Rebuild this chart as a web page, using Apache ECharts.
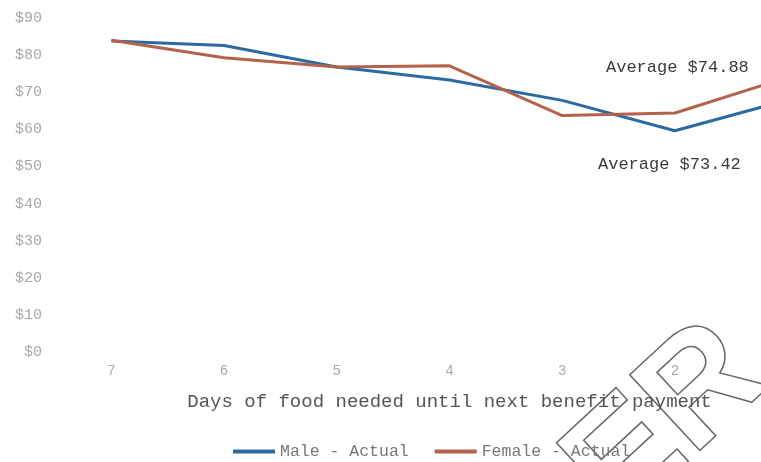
<!DOCTYPE html>
<html><head><meta charset="utf-8">
<script src="https://cdn.jsdelivr.net/npm/echarts@6/dist/echarts.min.js"></script>
<style>html,body{margin:0;padding:0;background:#fff;overflow:hidden}#c{width:850px;height:462px}</style>
</head><body><div id="c"></div>
<script>
var categories = ['7','6','5','4','3','2','1'];
var maleActual = [83.8, 82.6, 76.8, 73.3, 67.8, 59.6, 67.9];
var femaleActual = [84.0, 79.3, 76.8, 77.1, 63.7, 64.4, 74.0];
var yTicks = [0, 10, 20, 30, 40, 50, 60, 70, 80, 90];
var maleAvgLabel = 'Average $73.42';
var femaleAvgLabel = 'Average $74.88';

var chart = echarts.init(document.getElementById('c'), null, {renderer: 'canvas'});
var mono = 'Liberation Mono';
chart.setOption({
  animation: false,
  backgroundColor: '#fff',
  grid: {left: 55, top: 18, width: 789, height: 334, containLabel: false, outerBoundsMode: 'none'},
  xAxis: {
    type: 'category', data: categories, boundaryGap: true,
    axisLine: {show: false}, axisTick: {show: false},
    axisLabel: {color: '#a8a8a8', fontFamily: mono, fontSize: 14, margin: 12},
    name: 'Days of food needed until next benefit payment',
    nameLocation: 'middle', nameGap: 40,
    nameTextStyle: {color: '#555', fontFamily: mono, fontSize: 19}
  },
  yAxis: {
    type: 'value', min: yTicks[0], max: yTicks[yTicks.length - 1], interval: 10,
    axisLine: {show: false}, axisTick: {show: false}, splitLine: {show: false},
    axisLabel: {color: '#a8a8a8', fontFamily: mono, fontSize: 15, margin: 13,
      formatter: function (v) { return '$' + v; }}
  },
  legend: {
    left: 228, top: 438, itemWidth: 42, itemHeight: 4, itemGap: 26,
    icon: 'rect',
    textStyle: {color: '#777', fontFamily: mono, fontSize: 16.5},
    data: ['Male - Actual', 'Female - Actual']
  },
  series: [
    {name: 'Male - Actual', type: 'line', data: maleActual, symbol: 'none',
      lineStyle: {color: '#2b6aa3', width: 3}, itemStyle: {color: '#2b6aa3'}},
    {name: 'Female - Actual', type: 'line', data: femaleActual, symbol: 'none',
      lineStyle: {color: '#b3624c', width: 3}, itemStyle: {color: '#b3624c'}}
  ],
  graphic: [
    {type: 'text', left: 606, top: 59, style: {text: femaleAvgLabel, fill: '#3a3a3a', font: '17px "Liberation Mono"'}},
    {type: 'text', left: 598, top: 156, style: {text: maleAvgLabel, fill: '#3a3a3a', font: '17px "Liberation Mono"'}},
    {type: 'text', x: 540, y: 440, rotation: Math.PI / 4.2, silent: true,
      style: {text: 'ER', fill: 'none', stroke: '#666', lineWidth: 1.5, font: 'bold 150px "Liberation Sans"'}}
  ]
});
</script></body></html>
